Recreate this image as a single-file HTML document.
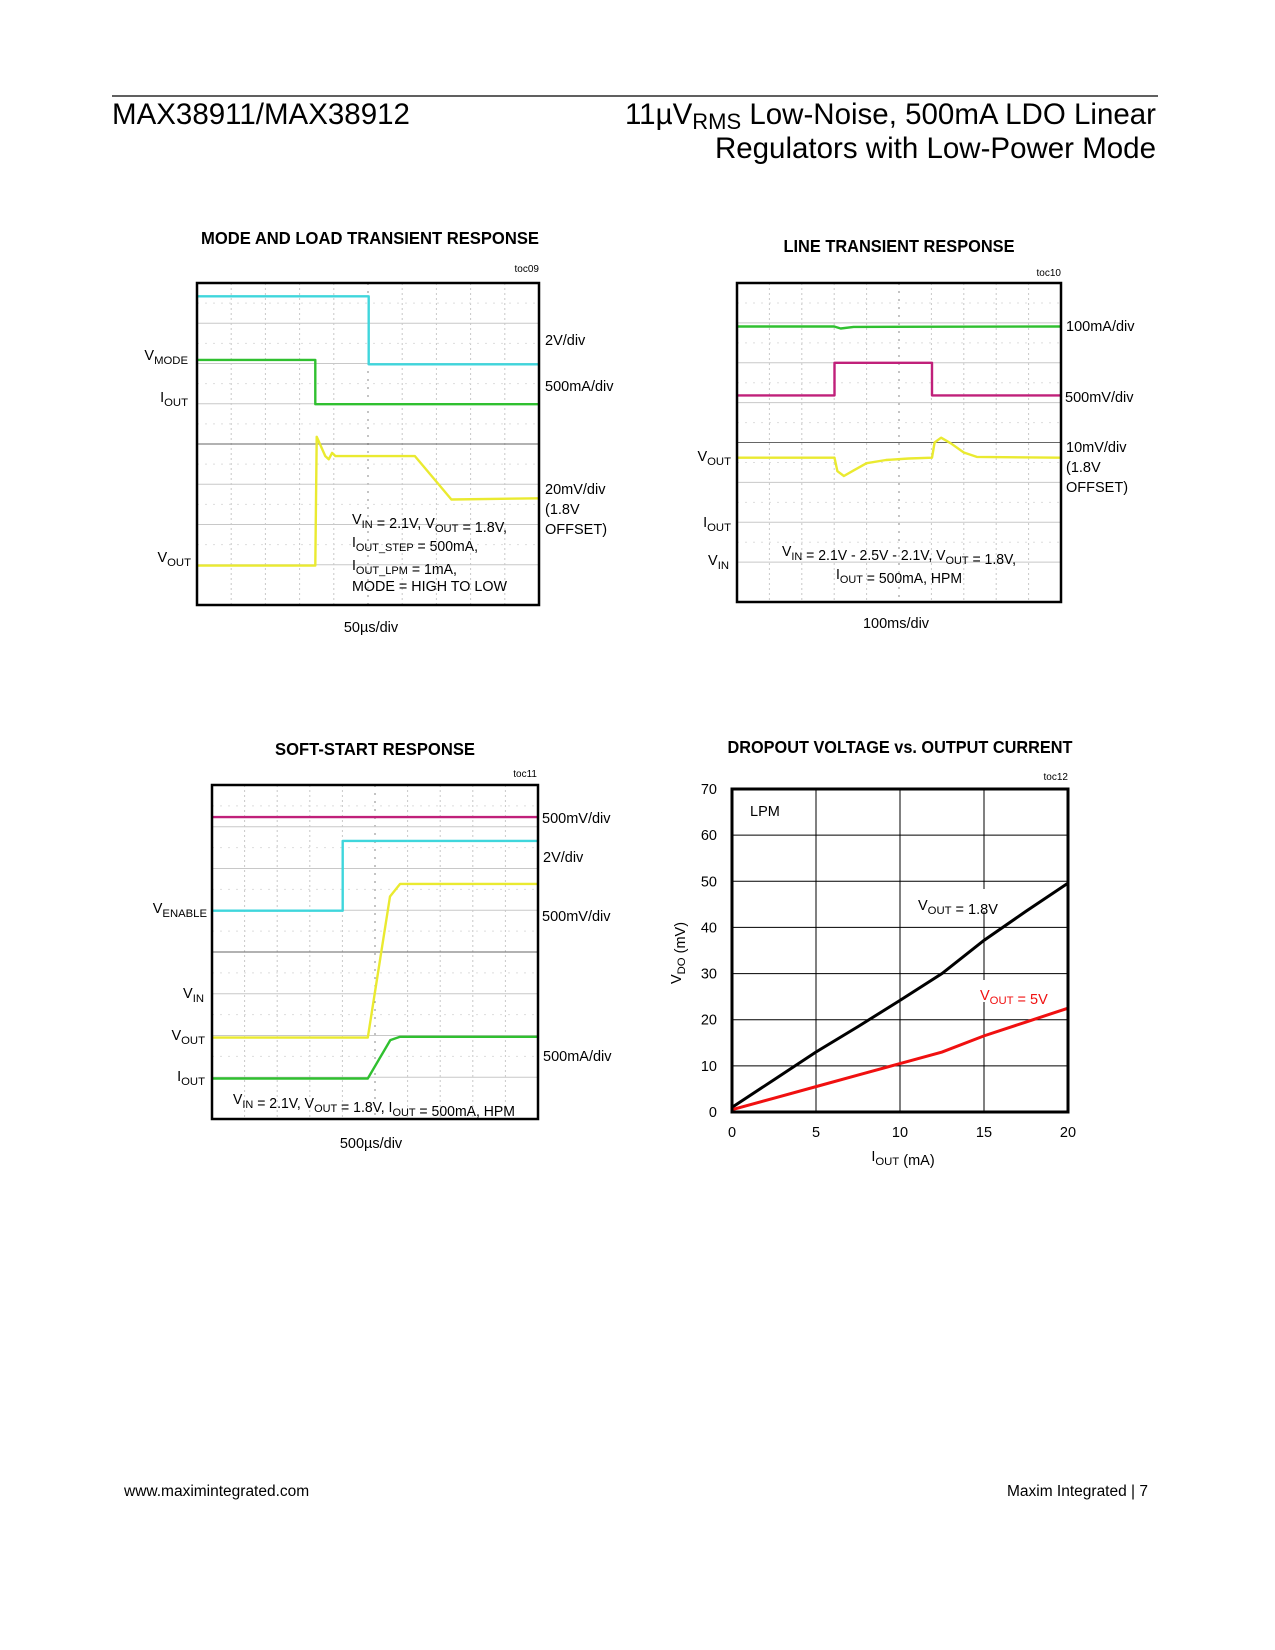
<!DOCTYPE html>
<html><head><meta charset="utf-8">
<style>
html,body{margin:0;padding:0;background:#fff;}
svg{display:block;font-family:"Liberation Sans",sans-serif;}
.t{font-weight:bold;font-size:17.5px;}
.l{font-size:14.5px;}
.s{font-size:10px;}
</style></head>
<body>
<svg id="page" width="1275" height="1650" viewBox="0 0 1275 1650" xmlns="http://www.w3.org/2000/svg">
<line x1="112" y1="96" x2="1158" y2="96" stroke="#000" stroke-width="1.2"/>
<text x="112" y="124" font-size="29.5">MAX38911/MAX38912</text>
<text x="1156" y="124" font-size="29.5" text-anchor="end">11µV<tspan font-size="22" dy="5">RMS</tspan><tspan dy="-5"> Low-Noise, 500mA LDO Linear</tspan></text>
<text x="1156" y="158" font-size="29.5" text-anchor="end">Regulators with Low-Power Mode</text>
<text x="124" y="1496" font-size="15.5">www.maximintegrated.com</text>
<text x="1148" y="1496" font-size="15.5" text-anchor="end">Maxim Integrated | 7</text>
<g id="c1"></g>
<g id="c2"></g>
<g id="c3"></g>
<g id="c4"></g>
</svg>
<script>
const c1CyanT = [0, 5.02, 5.02, 10];
const c1CyanV = [0.33, 0.33, 2.02, 2.02];
const c1GreenT = [0, 3.46, 3.46, 10];
const c1GreenV = [1.91, 1.91, 3.01, 3.01];
const c1YellowT = [0, 3.46, 3.50, 3.75, 3.85, 3.95, 4.05, 6.37, 7.44, 10];
const c1YellowV = [7.02, 7.02, 3.82, 4.30, 4.38, 4.22, 4.30, 4.30, 5.38, 5.35];

const c2GreenT = [0, 3.0, 3.2, 3.6, 10];
const c2GreenV = [1.09, 1.09, 1.14, 1.10, 1.09];
const c2MagT = [0, 3.01, 3.01, 6.02, 6.02, 10];
const c2MagV = [2.82, 2.82, 2.0, 2.0, 2.82, 2.82];
const c2YelT = [0, 3.01, 3.1, 3.3, 3.6, 4.0, 4.6, 5.3, 6.02, 6.1, 6.3, 6.6, 7.0, 7.4, 10];
const c2YelV = [4.38, 4.38, 4.72, 4.84, 4.70, 4.52, 4.44, 4.40, 4.38, 4.00, 3.88, 4.02, 4.25, 4.36, 4.38];

const c3MagT = [0, 10];
const c3MagV = [0.77, 0.77];
const c3CyanT = [0, 4.01, 4.01, 10];
const c3CyanV = [3.01, 3.01, 1.34, 1.34];
const c3YelT = [0, 4.78, 5.46, 5.77, 10];
const c3YelV = [6.05, 6.05, 2.67, 2.37, 2.37];
const c3GrnT = [0, 4.78, 5.47, 5.77, 10];
const c3GrnV = [7.03, 7.03, 6.11, 6.03, 6.03];

const ioutMA = [0, 2.5, 5, 7.5, 10, 12.5, 15, 17.5, 20];
const vdo18 = [1, 7, 13, 18.5, 24.2, 30, 37.2, 43.5, 49.6];
const vdo5 = [0.5, 3, 5.5, 8, 10.5, 13, 16.5, 19.5, 22.5];
const xTicks = [0, 5, 10, 15, 20];
const yTicks = [0, 10, 20, 30, 40, 50, 60, 70];

const NS = "http://www.w3.org/2000/svg";
function mk(parent, tag, attrs) {
  const e = document.createElementNS(NS, tag);
  for (const k in attrs) e.setAttribute(k, attrs[k]);
  parent.appendChild(e);
  return e;
}
function txt(parent, x, y, html, cls, anchor, extra) {
  const e = mk(parent, "text", {x: x, y: y, class: cls || "l", "text-anchor": anchor || "start"});
  if (extra) for (const k in extra) e.setAttribute(k, extra[k]);
  e.innerHTML = html;
  return e;
}
function sub(s) { return '<tspan font-size="0.78em" dy="4">' + s + '</tspan><tspan dy="-4"></tspan>'; }
function fit(len) { return {textLength: len, lengthAdjust: "spacingAndGlyphs"}; }

function scope(g, X, Y, W, H, traces) {
  const sx = d => X + d * W / 10, sy = d => Y + d * H / 8;
  const grid = mk(g, "g", {});
  
  
  for (let i = 1; i < 10; i++) {
    mk(grid, "line", {x1: sx(i), y1: Y, x2: sx(i), y2: Y + H, stroke: i == 5 ? "#888" : "#c8c8c8", "stroke-width": 1, "stroke-dasharray": i == 5 ? "2 6" : "2 3"});
  }
  for (let j = 1; j < 8; j++) {
    mk(grid, "line", {x1: X, y1: sy(j), x2: X + W, y2: sy(j), stroke: j == 4 ? "#666" : "#c8c8c8", "stroke-width": 1});
    mk(grid, "line", {x1: X, y1: sy(j - 0.5), x2: X + W, y2: sy(j - 0.5), stroke: "#ddd", "stroke-width": 1, "stroke-dasharray": "2 6"});
  }
  traces.forEach(tr => {
    const p = tr.t.map((t, i) => sx(t).toFixed(1) + "," + sy(tr.v[i]).toFixed(1)).join(" ");
    const pl = mk(g, "polyline", {points: p, fill: "none", stroke: tr.c, "stroke-width": 2.4, "stroke-linejoin": "round"});
    
    
  });
  const b = mk(g, "rect", {x: X, y: Y, width: W, height: H, fill: "none", stroke: "#000", "stroke-width": 2.5});
  
  
}

(function () {
  const g = document.getElementById("c1");
  const X = 197, Y = 283, W = 342, H = 322;
  txt(g, 370, 244, "MODE AND LOAD TRANSIENT RESPONSE", "t", "middle", fit(338));
  txt(g, 539, 272, "toc09", "s", "end");
  scope(g, X, Y, W, H, [
    {t: c1CyanT, v: c1CyanV, c: "#3fd6dc", n: "vmode-trace"},
    {t: c1GreenT, v: c1GreenV, c: "#30c030", n: "iout-trace"},
    {t: c1YellowT, v: c1YellowV, c: "#eaea30", n: "vout-trace"}]);
  txt(g, 545, 345, "2V/div"); txt(g, 545, 391, "500mA/div");
  txt(g, 545, 494, "20mV/div"); txt(g, 545, 514, "(1.8V"); txt(g, 545, 534, "OFFSET)");
  txt(g, 188, 360, "V" + sub("MODE"), "l", "end");
  txt(g, 188, 402, "I" + sub("OUT"), "l", "end");
  txt(g, 191, 562, "V" + sub("OUT"), "l", "end");
  txt(g, 352, 524, "V" + sub("IN") + " = 2.1V, V" + sub("OUT") + " = 1.8V,", "l", "start", fit(155));
  txt(g, 352, 547, "I" + sub("OUT_STEP") + " = 500mA,", "l", "start", fit(126));
  txt(g, 352, 570, "I" + sub("OUT_LPM") + " = 1mA,", "l", "start", fit(105));
  txt(g, 352, 591, "MODE = HIGH TO LOW", "l", "start", fit(155));
  txt(g, 371, 632, "50µs/div", "l", "middle");
})();

(function () {
  const g = document.getElementById("c2");
  const X = 737, Y = 283, W = 324, H = 319;
  txt(g, 899, 252, "LINE TRANSIENT RESPONSE", "t", "middle", fit(231));
  txt(g, 1061, 276, "toc10", "s", "end");
  scope(g, X, Y, W, H, [
    {t: c2GreenT, v: c2GreenV, c: "#30c030", n: "iout-trace"},
    {t: c2MagT, v: c2MagV, c: "#c0207a", n: "vin-trace"},
    {t: c2YelT, v: c2YelV, c: "#eaea30", n: "vout-trace"}]);
  txt(g, 1066, 331, "100mA/div"); txt(g, 1065, 402, "500mV/div");
  txt(g, 1066, 452, "10mV/div"); txt(g, 1066, 472, "(1.8V"); txt(g, 1066, 492, "OFFSET)");
  txt(g, 731, 461, "V" + sub("OUT"), "l", "end");
  txt(g, 731, 527, "I" + sub("OUT"), "l", "end");
  txt(g, 729, 565, "V" + sub("IN"), "l", "end");
  txt(g, 899, 556, "V" + sub("IN") + " = 2.1V - 2.5V - 2.1V, V" + sub("OUT") + " = 1.8V,", "l", "middle", fit(234));
  txt(g, 899, 579, "I" + sub("OUT") + " = 500mA, HPM", "l", "middle", fit(126));
  txt(g, 896, 628, "100ms/div", "l", "middle");
})();

(function () {
  const g = document.getElementById("c3");
  const X = 212, Y = 785, W = 326, H = 334;
  txt(g, 375, 755, "SOFT-START RESPONSE", "t", "middle", fit(200));
  txt(g, 537, 777, "toc11", "s", "end");
  scope(g, X, Y, W, H, [
    {t: c3MagT, v: c3MagV, c: "#c0207a", n: "vin-trace"},
    {t: c3CyanT, v: c3CyanV, c: "#3fd6dc", n: "venable-trace"},
    {t: c3YelT, v: c3YelV, c: "#eaea30", n: "vout-trace"},
    {t: c3GrnT, v: c3GrnV, c: "#30c030", n: "iout-trace"}]);
  txt(g, 542, 823, "500mV/div"); txt(g, 543, 862, "2V/div");
  txt(g, 542, 921, "500mV/div"); txt(g, 543, 1061, "500mA/div");
  txt(g, 207, 913, "V" + sub("ENABLE"), "l", "end");
  txt(g, 204, 998, "V" + sub("IN"), "l", "end");
  txt(g, 205, 1040, "V" + sub("OUT"), "l", "end");
  txt(g, 205, 1081, "I" + sub("OUT"), "l", "end");
  txt(g, 374, 1104, "V" + sub("IN") + " = 2.1V, V" + sub("OUT") + " = 1.8V, I" + sub("OUT") + " = 500mA, HPM", "l", "middle", fit(282));
  txt(g, 371, 1148, "500µs/div", "l", "middle");
})();

(function () {
  const g = document.getElementById("c4");
  const X = 732, Y = 789, W = 336, H = 323;
  const sx = v => X + v / 20 * W, sy = v => Y + H - v / 70 * H;
  txt(g, 900, 753, "DROPOUT VOLTAGE vs. OUTPUT CURRENT", "t", "middle", fit(345));
  txt(g, 1068, 780, "toc12", "s", "end");
  yTicks.forEach(v => {
    if (v > 0 && v < 70) { const l = mk(g, "line", {x1: X, y1: sy(v), x2: X + W, y2: sy(v), stroke: "#000", "stroke-width": 1});
        }
    const t = txt(g, 717, sy(v) + 5, String(v), "l", "end");
     
  });
  xTicks.forEach(v => {
    if (v > 0 && v < 20) { const l = mk(g, "line", {x1: sx(v), y1: Y, x2: sx(v), y2: Y + H, stroke: "#000", "stroke-width": 1});
        }
    const t = txt(g, sx(v), 1137, String(v), "l", "middle");
     
  });
  mk(g, "rect", {x: 915, y: 889, width: 85, height: 22, fill: "#fff"});
  mk(g, "rect", {x: 978, y: 980, width: 68, height: 22, fill: "#fff"});
  const s1 = mk(g, "polyline", {points: ioutMA.map((x, i) => sx(x) + "," + sy(vdo18[i])).join(" "), fill: "none", stroke: "#000", "stroke-width": 3});
   
  const s2 = mk(g, "polyline", {points: ioutMA.map((x, i) => sx(x) + "," + sy(vdo5[i])).join(" "), fill: "none", stroke: "#f01010", "stroke-width": 3});
   
  const b = mk(g, "rect", {x: X, y: Y, width: W, height: H, fill: "none", stroke: "#000", "stroke-width": 3});
   
  txt(g, 750, 816, "LPM");
  txt(g, 918, 910, "V" + sub("OUT") + " = 1.8V");
  txt(g, 980, 1000, "V" + sub("OUT") + " = 5V", "l", "start", {fill: "#f01010"});
  txt(g, 903, 1161, "I" + sub("OUT") + " (mA)", "l", "middle");
  txt(g, 0, 0, "V" + sub("DO") + " (mV)", "l", "middle", {transform: "translate(681,953) rotate(-90)"});
})();
</script>
</body></html>
